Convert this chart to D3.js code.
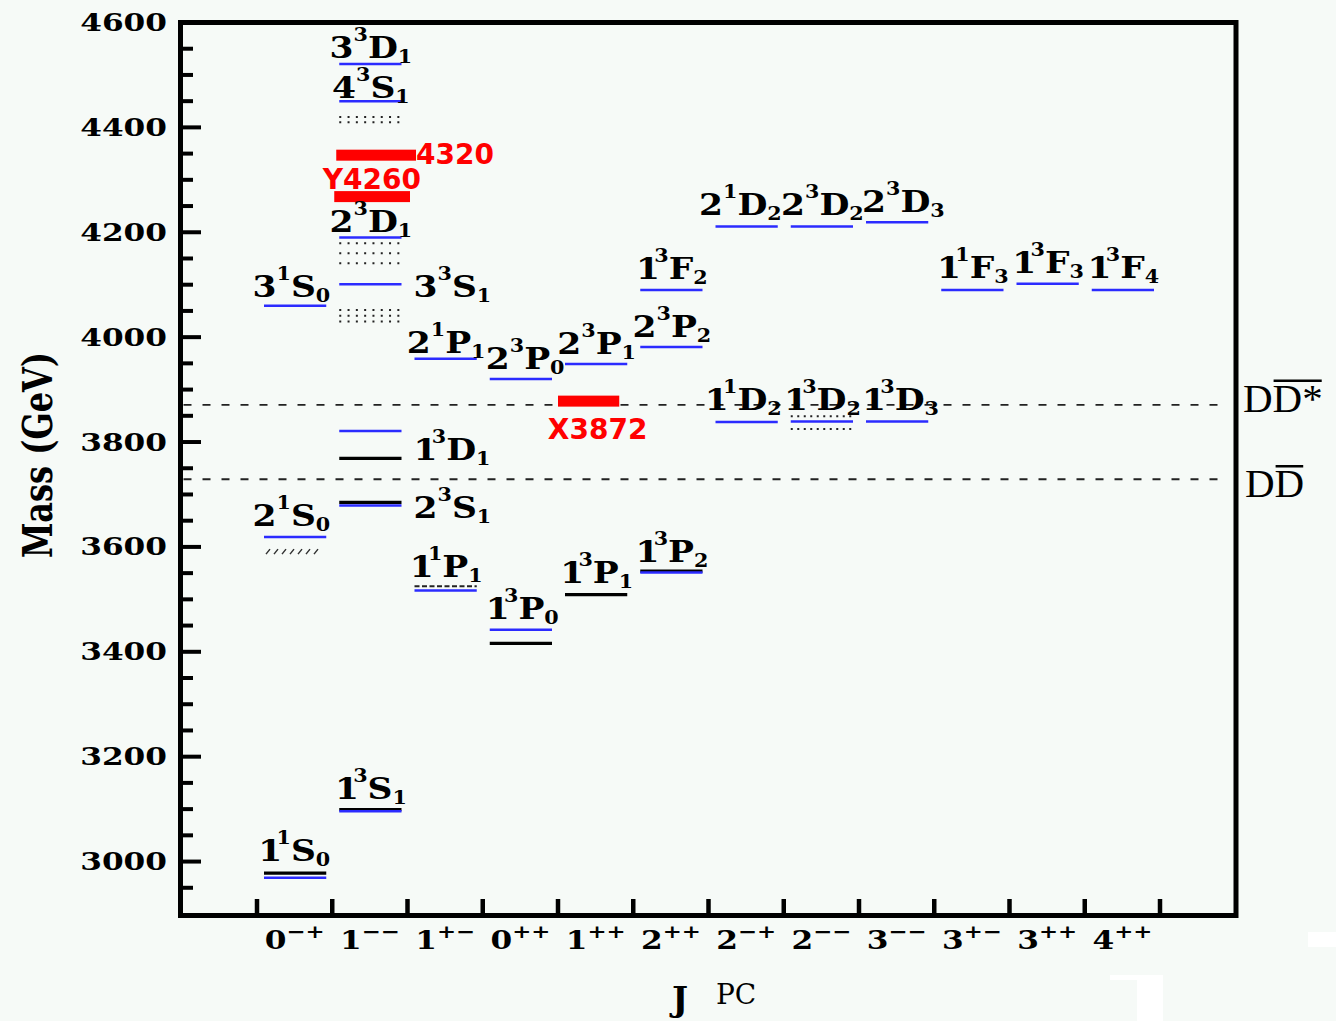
<!DOCTYPE html>
<html>
<head>
<meta charset="utf-8">
<script src="https://cdn.jsdelivr.net/npm/d3@7"></script>
<style>
    body { margin: 0; background: #f6faf7; }
    svg { display: block; }
</style>
</head>
<body>
<svg id="chart" width="1336" height="1021"></svg>
<script>
// J^PC columns
const jValues = ['0', '1', '1', '0', '1', '2', '2', '2', '3', '3', '3', '4'];
const pcValues = ['−+', '−−', '+−', '++', '++', '++', '−+', '−−', '−−', '+−', '++', '++'];

const massTicks = [3000, 3200, 3400, 3600, 3800, 4000, 4200, 4400, 4600];

// potential model levels (blue): [column, mass MeV]
const theoryLevels = [
    [0, 2969], [0, 3619], [0, 4060],
    [1, 3096], [1, 3679], [1, 3821], [1, 4101], [1, 4190], [1, 4450], [1, 4521],
    [2, 3517], [2, 3959],
    [3, 3442], [3, 3920],
    [4, 3949],
    [5, 3551], [5, 3981], [5, 4090],
    [6, 3838], [6, 4211],
    [7, 3839], [7, 4211],
    [8, 3839], [8, 4219],
    [9, 4090],
    [10, 4102],
    [11, 4090]
];

// observed levels (black)
const exptLevels = [
    [0, 2978],
    [1, 3099], [1, 3685], [1, 3769],
    [3, 3416],
    [4, 3509],
    [5, 3554]
];

// broad states drawn as dotted rows
const broadLevels = [
    [1, 4420], [1, 4410],
    [1, 4179], [1, 4160], [1, 4141],
    [1, 4052], [1, 4041], [1, 4030],
    [7, 3849], [7, 3825]
];
const hatchedLevels = [[0, 3591]];
const dashedLevels = [[2, 3525]];

// new states (red)
const newStates = [
    {col: 1, mass: 4347, name: '4320', place: 'right'},
    {col: 1, mass: 4268, name: 'Y4260', place: 'above'},
    {col: 4, mass: 3878, name: 'X3872', place: 'below'}
];

const thresholds = [
    {mass: 3871, a: 'D', b: 'D*'},
    {mass: 3729, a: 'D', b: 'D'}
];

// n, 2S+1, L, J and baseline mass
const stateLabels = [
    {col: 0, n: '1', s: '1', l: 'S', j: '0', m: 3001, align: 'end'},
    {col: 0, n: '2', s: '1', l: 'S', j: '0', m: 3639, align: 'end'},
    {col: 0, n: '3', s: '1', l: 'S', j: '0', m: 4077, align: 'end'},
    {col: 1, n: '1', s: '3', l: 'S', j: '1', m: 3119, align: 'middle'},
    {col: 1, n: '2', s: '3', l: 'S', j: '1', m: 3656, align: 'right'},
    {col: 1, n: '1', s: '3', l: 'D', j: '1', m: 3765, align: 'right'},
    {col: 1, n: '3', s: '3', l: 'S', j: '1', m: 4077, align: 'right'},
    {col: 1, n: '2', s: '3', l: 'D', j: '1', m: 4201, align: 'middle'},
    {col: 1, n: '4', s: '3', l: 'S', j: '1', m: 4456, align: 'middle'},
    {col: 1, n: '3', s: '3', l: 'D', j: '1', m: 4532, align: 'middle'},
    {col: 2, n: '2', s: '1', l: 'P', j: '1', m: 3970, align: 'middle'},
    {col: 2, n: '1', s: '1', l: 'P', j: '1', m: 3543, align: 'middle'},
    {col: 3, n: '2', s: '3', l: 'P', j: '0', m: 3940, align: 'start'},
    {col: 3, n: '1', s: '3', l: 'P', j: '0', m: 3462, align: 'start'},
    {col: 4, n: '2', s: '3', l: 'P', j: '1', m: 3967, align: 'middle'},
    {col: 4, n: '1', s: '3', l: 'P', j: '1', m: 3532, align: 'middle'},
    {col: 5, n: '2', s: '3', l: 'P', j: '2', m: 4001, align: 'middle'},
    {col: 5, n: '1', s: '3', l: 'F', j: '2', m: 4110, align: 'middle'},
    {col: 5, n: '1', s: '3', l: 'P', j: '2', m: 3572, align: 'middle'},
    {col: 6, n: '2', s: '1', l: 'D', j: '2', m: 4233, align: 'end'},
    {col: 6, n: '1', s: '1', l: 'D', j: '2', m: 3862, align: 'end'},
    {col: 7, n: '2', s: '3', l: 'D', j: '2', m: 4233, align: 'middle'},
    {col: 7, n: '1', s: '3', l: 'D', j: '2', m: 3862, align: 'middle'},
    {col: 8, n: '2', s: '3', l: 'D', j: '3', m: 4239, align: 'start'},
    {col: 8, n: '1', s: '3', l: 'D', j: '3', m: 3862, align: 'start'},
    {col: 9, n: '1', s: '1', l: 'F', j: '3', m: 4113, align: 'middle'},
    {col: 10, n: '1', s: '3', l: 'F', j: '3', m: 4123, align: 'middle'},
    {col: 11, n: '1', s: '3', l: 'F', j: '4', m: 4113, align: 'middle'}
];

// ---- layout
const width = 1336, height = 1021;
const frame = {left: 180.5, right: 1236, top: 22.5, bottom: 915.5};
const serif = '"DejaVu Serif", serif';
const blue = '#2b2bff';

const svg = d3.select('#chart');
svg.append('rect').attr('width', width).attr('height', height).attr('fill', '#f6faf7');

const y = d3.scaleLinear().domain([2900, 4600]).range([914, 22.5]);
const x = d3.scaleBand().domain(d3.range(jValues.length)).range([257, 1160]);
const bw = x.bandwidth();

const lx1 = d => x(d[0]) + 7;
const lx2 = d => x(d[0]) + bw - 6;

// thresholds
svg.selectAll('.thr')
    .data(thresholds)
    .join('line')
    .attr('class', 'thr')
    .attr('x1', frame.left + 3)
    .attr('x2', frame.right - 8)
    .attr('y1', d => y(d.mass))
    .attr('y2', d => y(d.mass))
    .attr('stroke', '#222')
    .attr('stroke-width', 1.8)
    .attr('stroke-dasharray', '8,11');

// broad states
svg.selectAll('.broad')
    .data(broadLevels)
    .join('line')
    .attr('class', 'broad')
    .attr('x1', lx1).attr('x2', lx2)
    .attr('y1', d => y(d[1])).attr('y2', d => y(d[1]))
    .attr('stroke', '#222')
    .attr('stroke-width', 2)
    .attr('stroke-dasharray', d => d[0] === 7 ? '2,4.5' : '2,6.3');

// hatched level
svg.selectAll('.hatch')
    .data(hatchedLevels)
    .join('path')
    .attr('class', 'hatch')
    .attr('d', d => d3.range(7).map(i => `M${lx1(d) + 2 + i * 8},${y(d[1]) + 2.5}l4,-5`).join(''))
    .attr('stroke', '#333')
    .attr('stroke-width', 1.5)
    .attr('fill', 'none');

svg.selectAll('.dashed')
    .data(dashedLevels)
    .join('line')
    .attr('class', 'dashed')
    .attr('x1', lx1).attr('x2', lx2)
    .attr('y1', d => y(d[1])).attr('y2', d => y(d[1]))
    .attr('stroke', '#222')
    .attr('stroke-width', 2)
    .attr('stroke-dasharray', '5,2.5');

svg.selectAll('.expt')
    .data(exptLevels)
    .join('line')
    .attr('class', 'expt')
    .attr('x1', lx1).attr('x2', lx2)
    .attr('y1', d => y(d[1])).attr('y2', d => y(d[1]))
    .attr('stroke', '#000')
    .attr('stroke-width', 3.2);

svg.selectAll('.theory')
    .data(theoryLevels)
    .join('line')
    .attr('class', 'theory')
    .attr('x1', lx1).attr('x2', lx2)
    .attr('y1', d => y(d[1])).attr('y2', d => y(d[1]))
    .attr('stroke', blue)
    .attr('stroke-width', 2.5);

// red bars for the new states
const barSpan = {'4320': [4, 8.5], 'Y4260': [2, 2.5], 'X3872': [0, -14]};
svg.selectAll('.newbar')
    .data(newStates)
    .join('rect')
    .attr('class', 'newbar')
    .attr('x', d => x(d.col) + barSpan[d.name][0])
    .attr('width', d => bw - barSpan[d.name][0] + barSpan[d.name][1])
    .attr('y', d => y(d.mass) - 5.5)
    .attr('height', 11)
    .attr('fill', '#ff0000');

svg.selectAll('.newtext')
    .data(newStates)
    .join('text')
    .attr('class', 'newtext')
    .attr('x', d => d.place === 'right' ? x(d.col) + bw + barSpan[d.name][1] : x(d.col) + bw / 2 + 2)
    .attr('y', d => d.place === 'right' ? y(d.mass) + 9 : d.place === 'above' ? y(d.mass) - 7.5 : y(d.mass) + 38)
    .attr('text-anchor', d => d.place === 'right' ? 'start' : 'middle')
    .attr('font-family', '"DejaVu Sans", sans-serif')
    .attr('font-weight', 'bold')
    .attr('font-size', 28)
    .attr('fill', '#ff0000')
    .text(d => d.name);

// spectroscopic labels
stateLabels.forEach(function (d) {
    let lx, anchor;
    if (d.align === 'end') { lx = x(d.col) + bw - 2; anchor = 'end'; }
    else if (d.align === 'start') { lx = x(d.col) + 3; anchor = 'start'; }
    else if (d.align === 'right') { lx = x(d.col) + bw + 6; anchor = 'start'; }
    else { lx = x(d.col) + bw / 2 + 1; anchor = 'middle'; }

    const t = svg.append('text')
        .attr('transform', `translate(${lx},${y(d.m)}) scale(1.15,1)`)
        .attr('text-anchor', anchor)
        .attr('font-family', serif)
        .attr('font-weight', 'bold')
        .attr('font-size', 30)
        .attr('fill', '#000');
    t.append('tspan').text(d.n);
    // the narrow "1" of the original sits close to its superscript
    t.append('tspan').attr('font-size', 18).attr('dy', -17).attr('dx', d.n === '1' ? -5 : 0).text(d.s);
    t.append('tspan').attr('dy', 17).text(d.l);
    t.append('tspan').attr('font-size', 18).attr('dy', 5).text(d.j);
});

// threshold labels
thresholds.forEach(function (d, i) {
    const base = y(d.mass) + (i === 0 ? 7 : 18);
    const t = svg.append('text')
        .attr('x', 1243 + i * 2)
        .attr('y', base)
        .attr('font-family', '"Liberation Serif", serif')
        .attr('font-size', 41)
        .attr('fill', '#000')
        .text(d.a + d.b);
    const node = t.node();
    const n = (d.a + d.b).length;
    const x0 = node.getStartPositionOfChar(1).x;
    const x1 = node.getEndPositionOfChar(n - 1).x;
    svg.append('line')
        .attr('x1', x0 + 1).attr('x2', x1 - 1)
        .attr('y1', base - 31).attr('y2', base - 31)
        .attr('stroke', '#000')
        .attr('stroke-width', 2.5);
});

// frame
svg.append('rect')
    .attr('x', frame.left).attr('y', frame.top)
    .attr('width', frame.right - frame.left)
    .attr('height', frame.bottom - frame.top)
    .attr('fill', 'none')
    .attr('stroke', '#000')
    .attr('stroke-width', 5);

// y ticks
const minorTicks = d3.range(2950, 4601, 50);
svg.selectAll('.ytick')
    .data(minorTicks)
    .join('line')
    .attr('class', 'ytick')
    .attr('x1', frame.left)
    .attr('x2', d => d % 200 === 0 ? 201 : 193)
    .attr('y1', d => y(d)).attr('y2', d => y(d))
    .attr('stroke', '#000')
    .attr('stroke-width', 4);

svg.selectAll('.ylab')
    .data(massTicks)
    .join('text')
    .attr('class', 'ylab')
    .attr('transform', d => `translate(167,${y(d) + 8.5}) scale(1.3,1)`)
    .attr('text-anchor', 'end')
    .attr('font-family', serif)
    .attr('font-weight', 'bold')
    .attr('font-size', 24)
    .text(d => d);

// x ticks at column edges
const edges = d3.range(jValues.length + 1).map(i => 257 + i * bw);
svg.selectAll('.xtick')
    .data(edges)
    .join('line')
    .attr('class', 'xtick')
    .attr('x1', d => d).attr('x2', d => d)
    .attr('y1', frame.bottom).attr('y2', 899)
    .attr('stroke', '#000')
    .attr('stroke-width', 4.5);

jValues.forEach(function (j, i) {
    const t = svg.append('text')
        .attr('transform', `translate(${x(i) + bw / 2},949) scale(1.2,1)`)
        .attr('text-anchor', 'middle')
        .attr('font-family', serif)
        .attr('font-weight', 'bold')
        .attr('font-size', 26);
    t.append('tspan').text(j);
    t.append('tspan').attr('font-size', 19).attr('dy', -11).text(pcValues[i]);
});

// axis titles
svg.append('text')
    .attr('transform', 'translate(52,455) scale(1.3,1) rotate(-90)')
    .attr('text-anchor', 'middle')
    .attr('font-family', serif)
    .attr('font-weight', 'bold')
    .attr('font-size', 32)
    .text('Mass (GeV)');

svg.append('text')
    .attr('x', 672).attr('y', 1011)
    .attr('font-family', serif)
    .attr('font-weight', 'bold')
    .attr('font-size', 34)
    .text('J');
svg.append('text')
    .attr('x', 716).attr('y', 1004)
    .attr('font-family', serif)
    .attr('font-size', 28)
    .text('PC');

// white patches in the scanned original
svg.append('rect').attr('x', 1308).attr('y', 932).attr('width', 28).attr('height', 15).attr('fill', '#fff');
svg.append('rect').attr('x', 1110).attr('y', 975).attr('width', 53).attr('height', 5).attr('fill', '#fff');
svg.append('rect').attr('x', 1137).attr('y', 975).attr('width', 26).attr('height', 46).attr('fill', '#fff');
</script>
</body>
</html>
